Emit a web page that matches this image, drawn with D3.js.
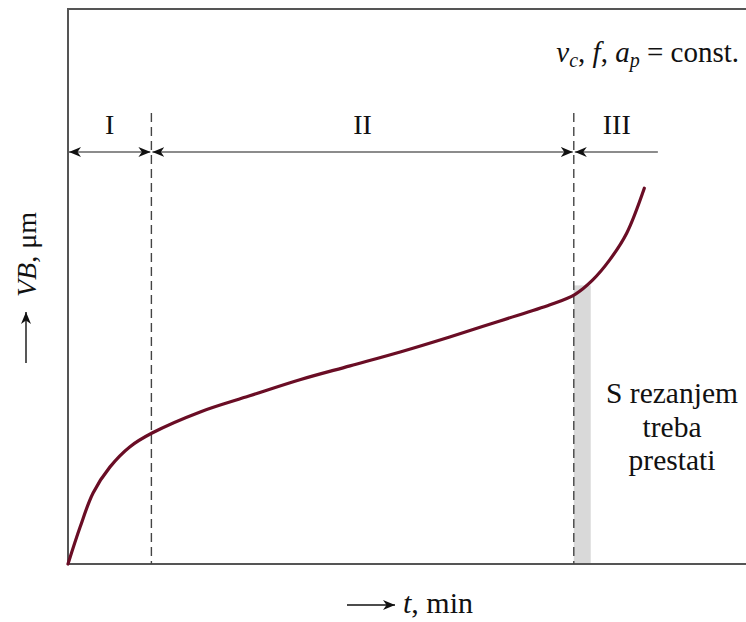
<!DOCTYPE html>
<html>
<head>
<meta charset="utf-8">
<script src="https://cdn.jsdelivr.net/npm/d3@7"></script>
<style>
  body { margin: 0; background: #fff; }
  #wear_svg text { fill: #111; }
</style>
</head>
<body>
<svg id="wear_svg" width="746" height="622"></svg>
<script>
// wear curve VB(t) (arbitrary units 0..100)
const timeValues = [0, 1.8, 3.7, 6.2, 9.1, 12.4, 19.5, 26.8, 34.2, 41.6, 49.0, 56.3, 63.7, 71.1, 74.8, 77.4, 79.9, 82.4, 85.0];
const wearValues = [0, 6.7, 12.8, 17.5, 21.1, 23.6, 27.4, 30.3, 33.2, 35.7, 38.2, 40.9, 43.8, 46.7, 48.6, 51.2, 54.8, 59.6, 67.7];

// zone boundaries along t
const zoneLabels = ["I", "II", "III"];
const zoneBounds = [0, 12.3, 74.6, 87.0];
const stopBand = [74.6, 77.1];
const stopBandTop = 50.2;
const stopText = ["S rezanjem", "treba", "prestati"];

const d3 = window.d3;
const width = 746, height = 622;
const margin = { top: 9, right: 0, bottom: 58, left: 68 };
const fontFamily = "'Liberation Serif', 'Times New Roman', Times, serif";
const fontSize = 28;

const x = d3.scaleLinear().domain([0, 100]).range([margin.left, width - margin.right]);
const y = d3.scaleLinear().domain([0, 100]).range([height - margin.bottom, margin.top]);

const svg = d3.select("#wear_svg").attr("font-family", fontFamily);

const defs = svg.append("defs");
defs.append("marker")
  .attr("id", "head")
  .attr("viewBox", "0 0 12 10")
  .attr("refX", 12)
  .attr("refY", 5)
  .attr("markerWidth", 12)
  .attr("markerHeight", 10)
  .attr("markerUnits", "userSpaceOnUse")
  .attr("orient", "auto-start-reverse")
  .append("path")
  .attr("d", "M0,0 L12,5 L0,10 L3.5,5 Z")
  .attr("fill", "#111");

// shaded "stop" band
svg.append("rect")
  .attr("x", x(stopBand[0]))
  .attr("y", y(stopBandTop))
  .attr("width", x(stopBand[1]) - x(stopBand[0]))
  .attr("height", y(0) - y(stopBandTop))
  .attr("fill", "#d9d9d9");

// frame
svg.append("path")
  .attr("fill", "none")
  .attr("stroke", "#555")
  .attr("stroke-width", 2)
  .attr("d", `M${x(100)},${y(100)} L${x(0)},${y(100)} L${x(0)},${y(0)} L${x(100)},${y(0)}`);

// dashed zone boundaries
const dashTop = 113;
svg.selectAll(".zone_line")
  .data(zoneBounds.slice(1, 3))
  .enter()
  .append("line")
  .attr("class", "zone_line")
  .attr("x1", (d) => x(d))
  .attr("x2", (d) => x(d))
  .attr("y1", dashTop)
  .attr("y2", y(0))
  .attr("stroke", "#444")
  .attr("stroke-width", 1.4)
  .attr("stroke-dasharray", "9,5");

// zone arrows
const arrowY = 152;
zoneLabels.forEach((label, i) => {
  const x0 = x(zoneBounds[i]), x1 = x(zoneBounds[i + 1]);
  const line = svg.append("line")
    .attr("x1", x0 + 1)
    .attr("x2", x1 - (i < 2 ? 1 : 0))
    .attr("y1", arrowY)
    .attr("y2", arrowY)
    .attr("stroke", "#666")
    .attr("stroke-width", 1.6)
    .attr("marker-start", "url(#head)");
  if (i < 2) line.attr("marker-end", "url(#head)");

  svg.append("text")
    .attr("x", i < 2 ? (x0 + x1) / 2 : x0 + 43)
    .attr("y", 134)
    .attr("text-anchor", "middle")
    .attr("font-size", fontSize)
    .text(label);
});

// wear curve
const data = timeValues.map((t, i) => ({ t, vb: wearValues[i] }));
svg.append("path")
  .datum(data)
  .attr("fill", "none")
  .attr("stroke", "#6a0d25")
  .attr("stroke-width", 3.2)
  .attr("stroke-linecap", "round")
  .attr("d", d3.line().x((d) => x(d.t)).y((d) => y(d.vb)).curve(d3.curveCatmullRom.alpha(0.5)));

// constants note
const note = svg.append("text")
  .attr("x", 739)
  .attr("y", 62)
  .attr("text-anchor", "end")
  .attr("font-size", 29);
note.append("tspan").attr("font-style", "italic").text("v");
note.append("tspan").attr("font-style", "italic").attr("font-size", 20).attr("dy", 5).text("c");
note.append("tspan").attr("dy", -5).text(", ");
note.append("tspan").attr("font-style", "italic").text("f");
note.append("tspan").text(", ");
note.append("tspan").attr("font-style", "italic").text("a");
note.append("tspan").attr("font-style", "italic").attr("font-size", 20).attr("dy", 5).text("p");
note.append("tspan").attr("dy", -5).text(" = const.");

// stop text
svg.append("text")
  .attr("x", 672)
  .attr("y", 403)
  .attr("text-anchor", "middle")
  .attr("font-size", 29.5)
  .selectAll("tspan")
  .data(stopText)
  .enter()
  .append("tspan")
  .attr("x", 672)
  .attr("dy", (d, i) => (i === 0 ? 0 : 33.5))
  .text((d) => d);

// x label
svg.append("line")
  .attr("x1", 347).attr("x2", 395)
  .attr("y1", 605).attr("y2", 605)
  .attr("stroke", "#111").attr("stroke-width", 1.4)
  .attr("marker-end", "url(#head)");
const xl = svg.append("text").attr("x", 403).attr("y", 613).attr("font-size", 30);
xl.append("tspan").attr("font-style", "italic").text("t");
xl.append("tspan").text(", min");

// y label
svg.append("line")
  .attr("x1", 26).attr("x2", 26)
  .attr("y1", 363).attr("y2", 312)
  .attr("stroke", "#111").attr("stroke-width", 1.4)
  .attr("marker-end", "url(#head)");
const yl = svg.append("text")
  .attr("transform", "translate(36, 297) rotate(-90)")
  .attr("font-size", fontSize);
yl.append("tspan").attr("font-style", "italic").text("VB");
yl.append("tspan").text(", μm");
</script>
</body>
</html>
